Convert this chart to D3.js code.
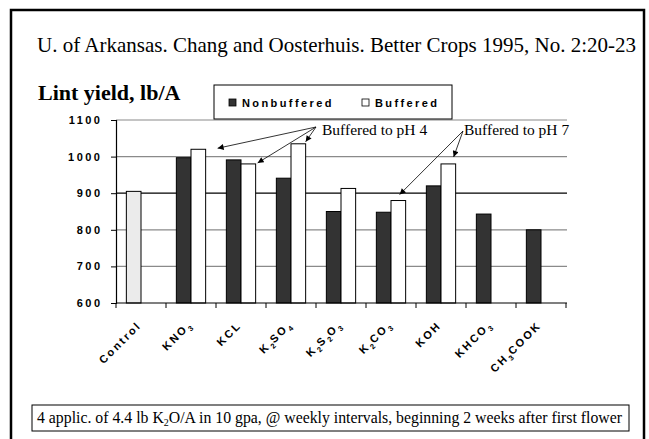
<!DOCTYPE html>
<html lang="en">
<head>
<meta charset="UTF-8">
<title>Lint yield</title>
<script src="https://d3js.org/d3.v7.min.js"></script>
<style>
  body { margin: 0; background: #fff; }
  .sans { font-family: Arial, "Liberation Sans", sans-serif; font-weight: bold; }
  .serif { font-family: "Liberation Serif", "Times New Roman", serif; }
</style>
</head>
<body>
<script>

// data
const categories = ["Control", "KNO_3", "KCL", "K_2SO_4", "K_2S_2O_3", "K_2CO_3", "KOH", "KHCO_3", "CH_3COOK"]
const control = [905, null, null, null, null, null, null, null, null]
const nonbuffered = [null, 997, 991, 941, 850, 848, 920, 843, 800]
const buffered = [null, 1020, 980, 1035, 913, 880, 980, null, null]
const yTicks = [600, 700, 800, 900, 1000, 1100]

// which bars the notes point at
const notePH4 = ["KNO_3", "KCL", "K_2SO_4"]
const notePH7 = ["K_2CO_3", "KOH"]

const W = 649, H = 439

var svg = d3.select("body").append("svg")
    .attr("width", W)
    .attr("height", H)

// arrow head
svg.append("defs").append("marker")
    .attr("id", "head")
    .attr("markerUnits", "userSpaceOnUse")
    .attr("viewBox", "0 0 10 10")
    .attr("refX", 10).attr("refY", 5)
    .attr("markerWidth", 7).attr("markerHeight", 6)
    .attr("orient", "auto")
  .append("path")
    .attr("d", "M0,0 L10,5 L0,10 z")
    .attr("fill", "black")

// outer frame
svg.append("rect")
    .attr("x", 11).attr("y", 10)
    .attr("width", 633).attr("height", 450)
    .attr("fill", "white")
    .attr("stroke", "black")
    .attr("stroke-width", 2.5)

svg.append("text")
    .attr("class", "serif")
    .attr("x", 37).attr("y", 52)
    .attr("font-size", 21)
    .text("U. of Arkansas. Chang and Oosterhuis. Better Crops 1995, No. 2:20-23")

svg.append("text")
    .attr("class", "serif")
    .attr("x", 38).attr("y", 100)
    .attr("font-size", 22)
    .attr("font-weight", "bold")
    .text("Lint yield, lb/A")

// scales
var x = d3.scaleBand()
    .domain(categories)
    .range([116, 566])
    .padding(0)

var xs = d3.scaleBand()
    .domain(["nb", "b"])
    .range([0, x.bandwidth()])
    .paddingInner(0)
    .paddingOuter(0.707)

var y = d3.scaleLinear()
    .domain([600, 1100])
    .range([303, 120])

// gridlines (900 drawn black, the rest grey)
svg.append("g").selectAll("line")
    .data(yTicks.filter(d => d > 600))
    .enter().append("line")
    .attr("x1", 116).attr("x2", 567)
    .attr("y1", d => y(d)).attr("y2", d => y(d))
    .attr("stroke", d => d == 900 ? "black" : "#8a8a8a")
    .attr("stroke-width", 1.2)

// bars
function barData(vals, key, fill) {
    return vals.map((v, i) => ({ cat: categories[i], v: v, key: key, fill: fill }))
        .filter(d => d.v != null)
}
var bars = [].concat(
    barData(control, "nb", "#ebebeb"),
    barData(nonbuffered, "nb", "#333333"),
    barData(buffered, "b", "white"))

svg.append("g").selectAll("rect")
    .data(bars)
    .enter().append("rect")
    .attr("x", d => x(d.cat) + xs(d.key))
    .attr("y", d => y(d.v))
    .attr("width", xs.bandwidth())
    .attr("height", d => y(600) - y(d.v))
    .attr("fill", d => d.fill)
    .attr("stroke", "black")
    .attr("stroke-width", 1)

// y axis
var yAxis = svg.append("g")
    .attr("transform", "translate(116,0)")
    .call(d3.axisLeft(y).tickValues(yTicks).tickSize(5).tickPadding(11).tickFormat(d3.format("d")))
yAxis.select(".domain").attr("stroke", "black").attr("stroke-width", 1.2)
yAxis.selectAll(".tick line").attr("stroke", "black")
yAxis.selectAll("text")
    .attr("class", "sans")
    .attr("font-size", 11)
    .attr("letter-spacing", 2.5)
    .attr("dx", 2.5)
    .attr("fill", "black")

// x axis: ticks at category boundaries
var xAxis = svg.append("g")
    .attr("transform", "translate(0,303)")
xAxis.append("line")
    .attr("x1", 116).attr("x2", 567)
    .attr("stroke", "black").attr("stroke-width", 1.2)
xAxis.selectAll(".xt")
    .data(categories.concat(["end"]))
    .enter().append("line")
    .attr("class", "xt")
    .attr("x1", (d, i) => i < categories.length ? x(d) : x.range()[1])
    .attr("x2", (d, i) => i < categories.length ? x(d) : x.range()[1])
    .attr("y1", 0).attr("y2", 5)
    .attr("stroke", "black")

// rotated category labels with subscripts
function addLabel(sel, s, big, small, spacing) {
    var parts = s.split("_")
    sel.append("tspan").text(parts[0])
    parts.slice(1).forEach(p => {
        sel.append("tspan").text(p[0])
            .attr("font-size", small).attr("dy", small * 0.45).attr("letter-spacing", 0.5)
        if (p.length > 1)
            sel.append("tspan").text(p.slice(1))
                .attr("font-size", big).attr("dy", -small * 0.45).attr("letter-spacing", spacing)
    })
}
categories.forEach(c => {
    var t = svg.append("text")
        .attr("class", "sans")
        .attr("font-size", 11)
        .attr("letter-spacing", 2.2)
        .attr("text-anchor", "end")
        .attr("transform", "translate(" + (x(c) + x.bandwidth() / 2 + 1) + ",326) rotate(-45)")
    addLabel(t, c, 11, 7.5, 2.2)
})

// legend
var legend = svg.append("g")
legend.append("rect")
    .attr("x", 214).attr("y", 85)
    .attr("width", 238).attr("height", 34)
    .attr("fill", "white").attr("stroke", "black").attr("stroke-width", 1)
var legendItems = [
    { label: "Nonbuffered", fill: "#333333", x: 229 },
    { label: "Buffered", fill: "white", x: 362 }]
legend.selectAll(".li")
    .data(legendItems)
    .enter().append("rect")
    .attr("x", d => d.x).attr("y", 99)
    .attr("width", 7).attr("height", 7)
    .attr("fill", d => d.fill).attr("stroke", "black").attr("stroke-width", 0.8)
legend.selectAll(".lt")
    .data(legendItems)
    .enter().append("text")
    .attr("class", "sans")
    .attr("x", d => d.x + 13).attr("y", 107)
    .attr("font-size", 11)
    .attr("letter-spacing", 2.4)
    .text(d => d.label)

// notes with arrows
function barTop(c) {
    var i = categories.indexOf(c)
    return [x(c) + xs("b") + xs.bandwidth(), y(buffered[i])]
}
function note(label, lx, ly, ox, oy, targets, offs) {
    svg.append("text")
        .attr("class", "serif")
        .attr("x", lx).attr("y", ly)
        .attr("font-size", 15.5)
        .text(label)
    targets.forEach((c, i) => {
        var p = barTop(c)
        svg.append("line")
            .attr("x1", ox).attr("y1", oy)
            .attr("x2", p[0] + offs[i][0]).attr("y2", p[1] + offs[i][1])
            .attr("stroke", "black").attr("stroke-width", 0.8)
            .attr("marker-end", "url(#head)")
    })
}
note("Buffered to pH 4", 322, 135, 316, 127, notePH4, [[12, -1], [2, -1], [0, -2]])
note("Buffered to pH 7", 464, 135, 463, 131, notePH7, [[-6, -6], [-2, -7]])

// footnote box
svg.append("rect")
    .attr("x", 32).attr("y", 405)
    .attr("width", 597).attr("height", 26)
    .attr("fill", "white").attr("stroke", "black").attr("stroke-width", 1)
var foot = svg.append("text")
    .attr("class", "serif")
    .attr("x", 37).attr("y", 423)
    .attr("font-size", 15.8)
foot.append("tspan").text("4 applic. of 4.4 lb K")
foot.append("tspan").text("2").attr("font-size", 10).attr("dy", 3)
foot.append("tspan").text("O/A in 10 gpa, @ weekly intervals, beginning 2 weeks after first flower").attr("dy", -3)

</script>
</body>
</html>
